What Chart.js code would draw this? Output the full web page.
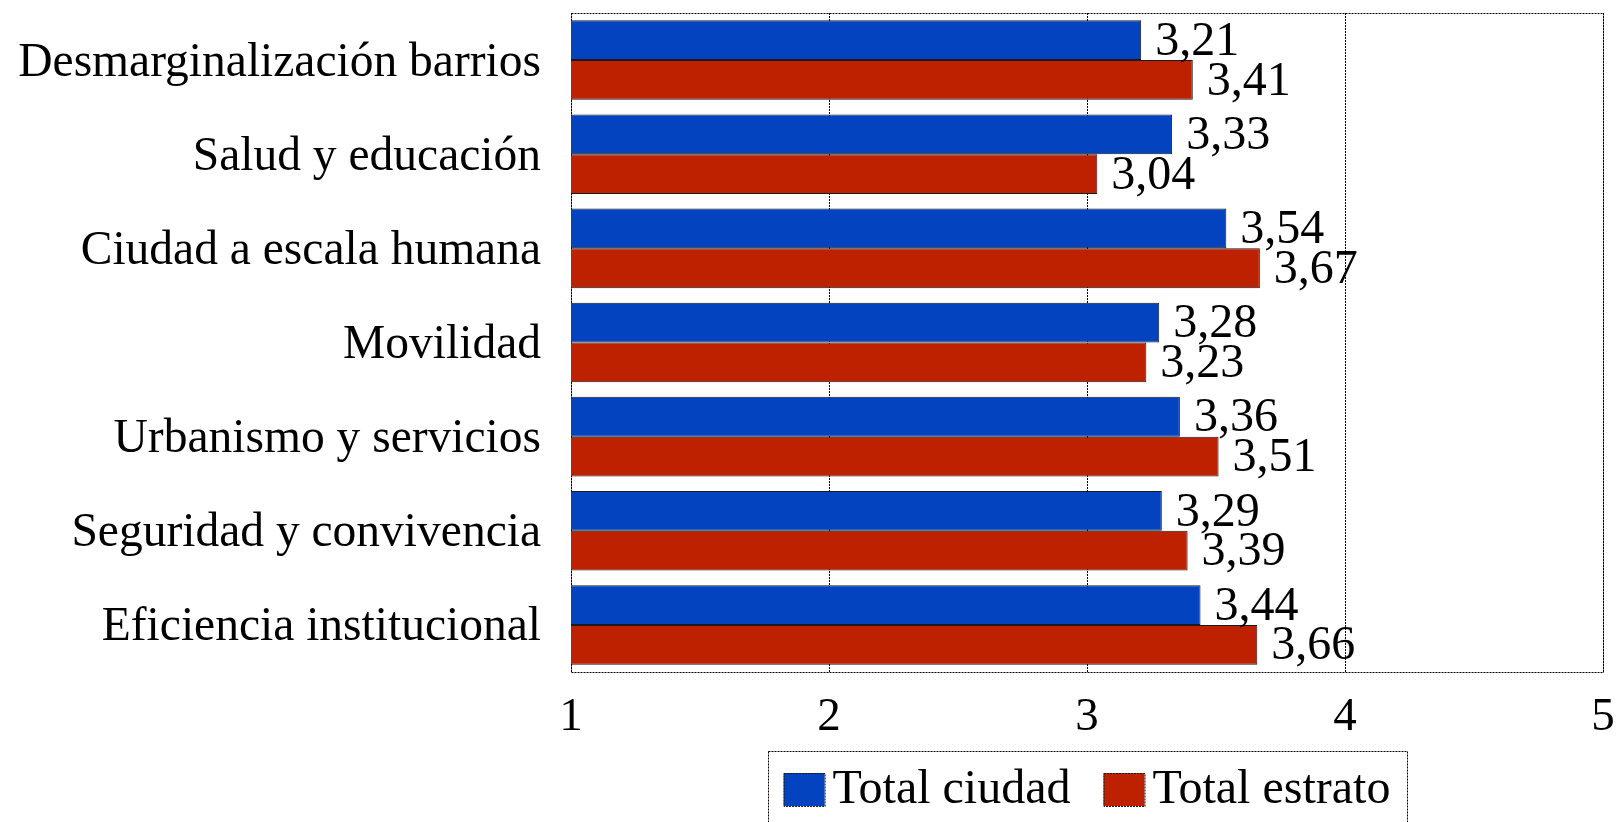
<!DOCTYPE html>
<html>
<head>
<meta charset="utf-8">
<script src="https://cdn.jsdelivr.net/npm/chart.js@4"></script>
<style>
  html, body { margin: 0; padding: 0; background: #fff; }
  #wrap { width: 1621px; height: 822px; position: relative; }
</style>
</head>
<body>
<div id="wrap"><canvas id="myChart"></canvas></div>
<script>
const categories = [
    'Desmarginalización barrios',
    'Salud y educación',
    'Ciudad a escala humana',
    'Movilidad',
    'Urbanismo y servicios',
    'Seguridad y convivencia',
    'Eficiencia institucional'
];
const totalCiudad = [3.21, 3.33, 3.54, 3.28, 3.36, 3.29, 3.44];
const totalEstrato = [3.41, 3.04, 3.67, 3.23, 3.51, 3.39, 3.66];
const seriesNames = ['Total ciudad', 'Total estrato'];
const xTicks = [1, 2, 3, 4, 5];

const serif = '"Liberation Serif", "Times New Roman", serif';
Chart.defaults.color = '#000';
Chart.defaults.font.family = serif;
Chart.defaults.font.size = 47;

// dotted frame round the plot area
const framePlugin = {
    id: 'frame',
    beforeDatasetsDraw(chart) {
        const a = chart.chartArea;
        const ctx = chart.ctx;
        ctx.save();
        ctx.strokeStyle = '#000';
        ctx.lineWidth = 1;
        ctx.setLineDash([2, 1]);
        ctx.strokeRect(a.left + 0.5, a.top + 0.5, a.right - a.left, a.bottom - a.top);
        ctx.restore();
    }
};

// legend drawn by hand under the axis (the built-in one puts too much gap after the box)
const boxLegend = {
    id: 'boxLegend',
    afterDraw(chart) {
        const ctx = chart.ctx;
        const a = chart.chartArea;
        const sw = 41, sh = 33, gap = 8, between = 33;
        ctx.save();
        ctx.font = '48px ' + serif;
        const items = chart.data.datasets.map(ds => ({
            text: ds.label,
            color: ds.backgroundColor,
            w: ctx.measureText(ds.label).width
        }));
        let total = 0;
        items.forEach((it, i) => { total += sw + gap + it.w + (i > 0 ? between : 0); });
        const cx = (a.left + a.right) / 2;
        let x = cx - total / 2;
        const boxTop = 773;
        const startX = x;
        items.forEach(it => {
            ctx.fillStyle = it.color;
            ctx.fillRect(x, boxTop, sw, sh);
            ctx.strokeStyle = '#1a1a1a';
            ctx.lineWidth = 1;
            ctx.setLineDash([2, 1]);
            ctx.strokeRect(x + 0.5, boxTop + 0.5, sw, sh);
            ctx.setLineDash([]);
            ctx.fillStyle = '#000';
            ctx.textAlign = 'left';
            ctx.textBaseline = 'middle';
            ctx.fillText(it.text, x + sw + gap, boxTop + sh / 2 + 1);
            x += sw + gap + it.w + between;
        });
        const right = x - between;
        ctx.strokeStyle = '#000';
        ctx.setLineDash([2, 1]);
        ctx.strokeRect(Math.round(startX - 16) + 0.5, boxTop - 21.5, Math.round(right - startX + 32), 100);
        ctx.restore();
    }
};

// value labels at the end of each bar
const valueLabels = {
    id: 'valueLabels',
    afterDatasetsDraw(chart) {
        const ctx = chart.ctx;
        ctx.save();
        ctx.font = '48px ' + serif;
        ctx.fillStyle = '#000';
        ctx.textAlign = 'left';
        ctx.textBaseline = 'middle';
        chart.data.datasets.forEach((ds, i) => {
            chart.getDatasetMeta(i).data.forEach((bar, j) => {
                const txt = ds.data[j].toFixed(2).replace('.', ',');
                ctx.fillText(txt, bar.x + 14, bar.y + 2);
            });
        });
        ctx.restore();
    }
};

const ctx = document.getElementById('myChart').getContext('2d');
new Chart(ctx, {
    type: 'bar',
    data: {
        labels: categories,
        datasets: [{
            label: seriesNames[0],
            data: totalCiudad,
            backgroundColor: '#0343C0',
            borderColor: '#1a1a1a',
            borderWidth: 1,
            borderSkipped: false
        }, {
            label: seriesNames[1],
            data: totalEstrato,
            backgroundColor: '#BD2100',
            borderColor: '#1a1a1a',
            borderWidth: 1,
            borderSkipped: false
        }]
    },
    options: {
        indexAxis: 'y',
        responsive: true,
        maintainAspectRatio: false,
        animation: false,
        datasets: {
            bar: { categoryPercentage: 0.845, barPercentage: 1.0 }
        },
        layout: { padding: { top: 13, right: 18, bottom: 67, left: 0 } },
        scales: {
            x: {
                type: 'linear',
                min: xTicks[0],
                max: xTicks[xTicks.length - 1],
                afterBuildTicks(scale) {
                    scale.ticks = xTicks.map(v => ({ value: v }));
                },
                afterFit(scale) {
                    scale.height = 83;
                    scale.paddingLeft = 0;
                    scale.paddingRight = 0;
                },
                grid: {
                    color: '#000',
                    lineWidth: 1,
                    drawTicks: false
                },
                border: { display: false, dash: [2, 1] },
                ticks: {
                    padding: 17,
                    font: { size: 47, family: serif },
                    callback: v => String(v)
                }
            },
            y: {
                afterFit(scale) {
                    scale.width = 571;
                    scale.paddingTop = 0;
                    scale.paddingBottom = 0;
                },
                grid: { display: false, drawTicks: false },
                border: { display: false },
                ticks: {
                    padding: 30,
                    labelOffset: 3,
                    font: { size: 47.5, family: serif }
                }
            }
        },
        plugins: {
            legend: { display: false },
            tooltip: { enabled: false }
        }
    },
    plugins: [framePlugin, valueLabels, boxLegend]
});
</script>
</body>
</html>
